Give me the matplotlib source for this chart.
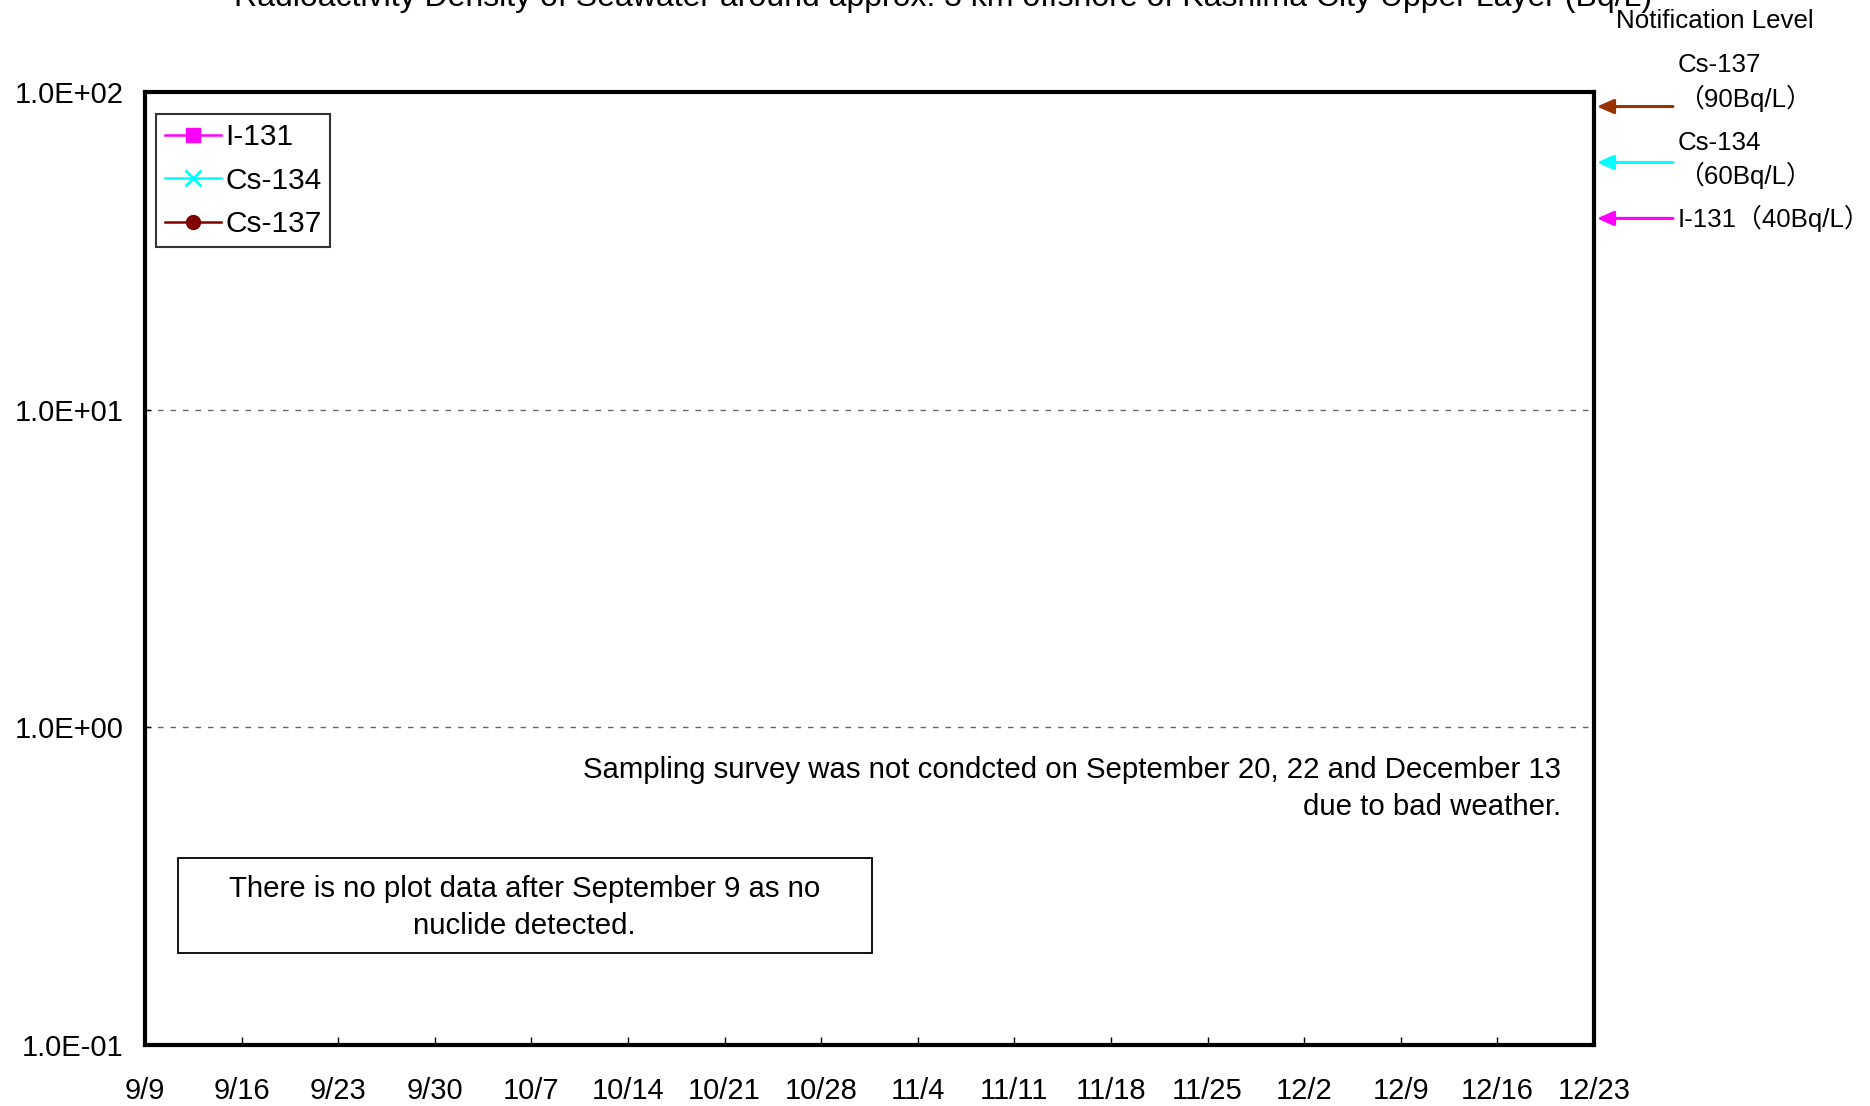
import datetime as dt
import matplotlib
matplotlib.use("Agg")
import matplotlib.pyplot as plt
import matplotlib.dates as mdates
import matplotlib.transforms as mtransforms
from matplotlib.patches import Rectangle
from matplotlib.ticker import FixedLocator, FixedFormatter, FuncFormatter, NullLocator

plt.rcParams['font.family'] = ['Liberation Sans', 'Noto Sans CJK JP', 'DejaVu Sans']

# ---------------- data ----------------
title = "Radioactivity Density of Seawater around approx. 3 km offshore of Kashima City Upper Layer (Bq/L)"
series_names = ["I-131", "Cs-134", "Cs-137"]
series_colors = ["#FF00FF", "#00FFFF", "#800000"]
series_markers = ["s", "x", "o"]
# no nuclide detected after September 9 -> no plotted points
i131_dates, i131_values = [], []
cs134_dates, cs134_values = [], []
cs137_dates, cs137_values = [], []

x_start = dt.date(2011, 9, 9)
x_end = dt.date(2011, 12, 23)
tick_step_days = 7

y_ticks = [0.1, 1, 10, 100]
y_tick_labels = ["1.0E-01", "1.0E+00", "1.0E+01", "1.0E+02"]

# notification levels (Bq/L)
limit_names = ["Cs-137", "Cs-134", "I-131"]
limit_values = [90, 60, 40]
limit_colors = ["#993300", "#00FFFF", "#FF00FF"]

note_text = "Sampling survey was not condcted on September 20, 22 and December 13\ndue to bad weather."
box_text = "There is no plot data after September 9 as no\nnuclide detected."

# ---------------- figure ----------------
W, H = 1870, 1106
fig = plt.figure(figsize=(W / 100, H / 100), dpi=100)
ax_l, ax_r, ax_t, ax_b = 145, 1594, 92, 1045
ax = fig.add_axes([ax_l / W, 1 - ax_b / H, (ax_r - ax_l) / W, (ax_b - ax_t) / H])

all_series = [(i131_dates, i131_values), (cs134_dates, cs134_values), (cs137_dates, cs137_values)]
for (d, v), name, c, m in zip(all_series, series_names, series_colors, series_markers):
    ax.plot(d, v, color=c, marker=m, lw=1.8, ms=10 if m != "x" else 11, mew=2 if m == "x" else 1,
            label=name)

ax.set_yscale("log")
ax.set_ylim(y_ticks[0], y_ticks[-1])
ax.yaxis.set_major_locator(FixedLocator(y_ticks))
ax.yaxis.set_major_formatter(FixedFormatter(y_tick_labels))
ax.yaxis.set_minor_locator(NullLocator())

xs = mdates.date2num(x_start)
xe = mdates.date2num(x_end)
ax.set_xlim(xs, xe)
xticks = [xs + k for k in range(0, int(xe - xs) + 1, tick_step_days)]
ax.xaxis.set_major_locator(FixedLocator(xticks))
ax.xaxis.set_major_formatter(FuncFormatter(
    lambda v, p: f"{mdates.num2date(v).month}/{mdates.num2date(v).day}"))

ax.tick_params(axis="x", direction="in", length=6, width=1, labelsize=21, pad=23, color="black")
ax.tick_params(axis="y", direction="in", length=4, width=1, labelsize=21, pad=15.5)

for sp in ax.spines.values():
    sp.set_linewidth(3)
    sp.set_color("black")

for yv in y_ticks[1:-1]:
    ax.axhline(yv, color="#666666", lw=1, ls=(0, (4, 5)), zorder=0)

leg = ax.legend(loc="upper left", bbox_to_anchor=(0.0074, 0.9766), fontsize=21.5,
                frameon=True, fancybox=False, borderaxespad=0, handlelength=1.9,
                handletextpad=0.12, labelspacing=0.52, borderpad=0.3)
leg.get_frame().set_edgecolor("black")
leg.get_frame().set_linewidth(1.5)

# note text
ax.text(0.977, 0.269, note_text, transform=ax.transAxes, ha="right", va="center",
        fontsize=21.2, linespacing=1.38)

# box with message
ax.add_patch(Rectangle((0.0226, 0.0965), 0.5016 - 0.0226, 0.1967 - 0.0965,
                       transform=ax.transAxes, fill=False, edgecolor="black", lw=1.3))
ax.text(0.262, 0.1445, box_text, transform=ax.transAxes, ha="center", va="center",
        fontsize=21.2, linespacing=1.4)

# title
fig.text(943.5 / W, 1 - 6 / H, title, ha="center", va="baseline", fontsize=23)

# notification level arrows
trans = mtransforms.blended_transform_factory(ax.transAxes, ax.transData)
for name, val, col in zip(limit_names, limit_values, limit_colors):
    ax.annotate("", xy=(1.002, val), xycoords=trans, xytext=(1.0545, val), textcoords=trans,
                arrowprops=dict(arrowstyle="-|>,head_length=0.5,head_width=0.22",
                                mutation_scale=20, lw=2.2, color=col,
                                shrinkA=0, shrinkB=0), annotation_clip=False)

fs_r = 18.6
fig.text(1616 / W, 1 - 28 / H, "Notification Level", ha="left", va="baseline", fontsize=fs_r)
lx = 1678 / W
fig.text(lx, 1 - 65 / H, limit_names[0], ha="left", va="center", fontsize=fs_r)
fig.text(lx, 1 - 98 / H, f"（{limit_values[0]}Bq/L）", ha="left", va="center", fontsize=fs_r)
fig.text(lx, 1 - 143 / H, limit_names[1], ha="left", va="center", fontsize=fs_r)
fig.text(lx, 1 - 175 / H, f"（{limit_values[1]}Bq/L）", ha="left", va="center", fontsize=fs_r)
fig.text(lx, 1 - 218 / H, f"{limit_names[2]}（{limit_values[2]}Bq/L）", ha="left", va="center", fontsize=fs_r)

fig.savefig("out.png", dpi=100)
